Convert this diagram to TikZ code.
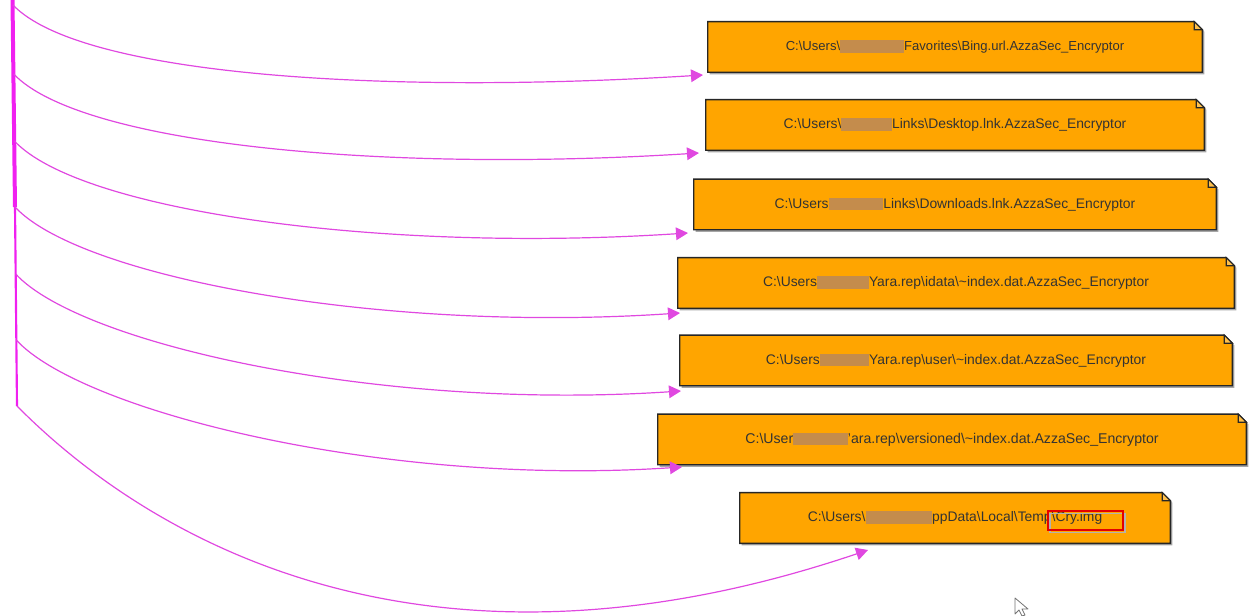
\documentclass[tikz,border=0pt]{standalone}
\usepackage{fontspec}
\setmainfont{Liberation Sans}
\usetikzlibrary{arrows.meta,backgrounds}
\definecolor{noteorange}{HTML}{FFA500}
\definecolor{linkpink}{HTML}{E048E0}
\definecolor{trunkpink}{HTML}{F020F0}
\definecolor{smudge}{HTML}{C48C4C}
\newcommand{\blurpatch}[1]{\textcolor{smudge}{\rule[-1.5pt]{#1}{9.5pt}}}
\newcommand{\bs}{\textbackslash}
\newcommand{\notebox}[1]{%
\fill[black!35] ([shift={(1.5pt,-1.5pt)}]#1.south west) -- ([shift={(1.5pt,-1.5pt)}]#1.north west) -- ([shift={(-4.5pt,-1.5pt)}]#1.north east) -- ([shift={(1.5pt,-7.5pt)}]#1.north east) -- ([shift={(1.5pt,-1.5pt)}]#1.south east) -- cycle;
\draw[note edge] (#1.south west) -- (#1.north west) -- ([xshift=-6pt]#1.north east) -- ([yshift=-6pt]#1.north east) -- (#1.south east) -- cycle;
\draw[fold edge] ([xshift=-6pt]#1.north east) -- ([xshift=-6pt,yshift=-6pt]#1.north east) -- ([yshift=-6pt]#1.north east) -- cycle;}
\begin{document}
\begin{tikzpicture}[x=0.75pt,y=-0.75pt,
  file node/.style={rectangle,minimum height=37.5pt,inner sep=0pt,text=black!80,font=\fontsize{10.4}{12}\selectfont},
  note edge/.style={draw=black!85,fill=noteorange,line width=1.1pt,line join=miter},
  fold edge/.style={draw=black!85,fill=noteorange!70!white,line width=0.8pt},
  link/.style={draw=linkpink,line width=0.9pt,-{Triangle[length=9pt,width=9.5pt]}},
  trunk/.style={draw=trunkpink}]
\useasboundingbox (0,0) rectangle (1250,616);
\begin{scope}[every node/.style={file node}]
\node[minimum width=370.5pt,font=\fontsize{9.8}{12}\selectfont] (f1) at (955,47) {C:\bs Users\bs\blurpatch{48pt}Favorites\bs Bing.url.AzzaSec\_Encryptor};
\node[minimum width=373.5pt] (f2) at (955,125) {C:\bs Users\bs\blurpatch{38pt}Links\bs Desktop.lnk.AzzaSec\_Encryptor};
\node[minimum width=391.5pt] (f3) at (955,204.5) {C:\bs Users\blurpatch{41pt}Links\bs Downloads.lnk.AzzaSec\_Encryptor};
\node[minimum width=417pt] (f4) at (956,283) {C:\bs Users\blurpatch{39pt}Yara.rep\bs idata\bs\textasciitilde index.dat.AzzaSec\_Encryptor};
\node[minimum width=414pt] (f5) at (956,360.5) {C:\bs Users\blurpatch{37pt}Yara.rep\bs user\bs\textasciitilde index.dat.AzzaSec\_Encryptor};
\node[minimum width=441pt,font=\fontsize{10.6}{12}\selectfont] (f6) at (952,439.5) {C:\bs User\blurpatch{41pt}'ara.rep\bs versioned\bs\textasciitilde index.dat.AzzaSec\_Encryptor};
\node[minimum width=322.5pt] (f7) at (955,518) {C:\bs Users\bs\blurpatch{50pt}ppData\bs Local\bs Temp\bs Cry.img};
\end{scope}
\begin{scope}[on background layer]
\notebox{f1}
\notebox{f2}
\notebox{f3}
\notebox{f4}
\notebox{f5}
\notebox{f6}
\notebox{f7}
\end{scope}
% highlight
\draw[black!30,line width=1.2pt] (1050,513.5) rectangle (1125,532.5);
\draw[red!90!black,line width=1.1pt] (1048,511) rectangle (1123,530);
% trunk and branches
\coordinate (top) at (12.5,0);
\coordinate (b1) at (13,5);
\coordinate (b2) at (13.7,74);
\coordinate (b3) at (14.4,141);
\coordinate (b4) at (15,207);
\coordinate (b5) at (15.7,274);
\coordinate (b6) at (16.3,340);
\coordinate (b7) at (17,406);
\coordinate (t1) at (703,75);
\coordinate (t2) at (699,153);
\coordinate (t3) at (688,233);
\coordinate (t4) at (680,313);
\coordinate (t5) at (681,391);
\coordinate (t6) at (682,467);
\coordinate (t7) at (868,550);
\draw[trunk,line width=3pt] (top) -- (b4);
\draw[trunk,line width=1.6pt] (b4) -- (b7);
\draw[link] (b1) .. controls (80,75) and (380,95) .. (t1);
\draw[link] (b2) .. controls (80,144) and (380,173) .. (t2);
\draw[link] (b3) .. controls (80,211) and (380,253) .. (t3);
\draw[link] (b4) .. controls (80,277) and (380,333) .. (t4);
\draw[link] (b5) .. controls (80,344) and (380,411) .. (t5);
\draw[link] (b6) .. controls (80,410) and (380,487) .. (t6);
\draw[link] (b7) .. controls (110,500) and (380,715) .. (t7);
% cursor
\draw[black!55,fill=white,line width=0.6pt,line join=round] (1015,598) -- (1015,614) -- (1019,610) -- (1022,616) -- (1025,615) -- (1022,609) -- (1028,609) -- cycle;
\end{tikzpicture}
\end{document}
